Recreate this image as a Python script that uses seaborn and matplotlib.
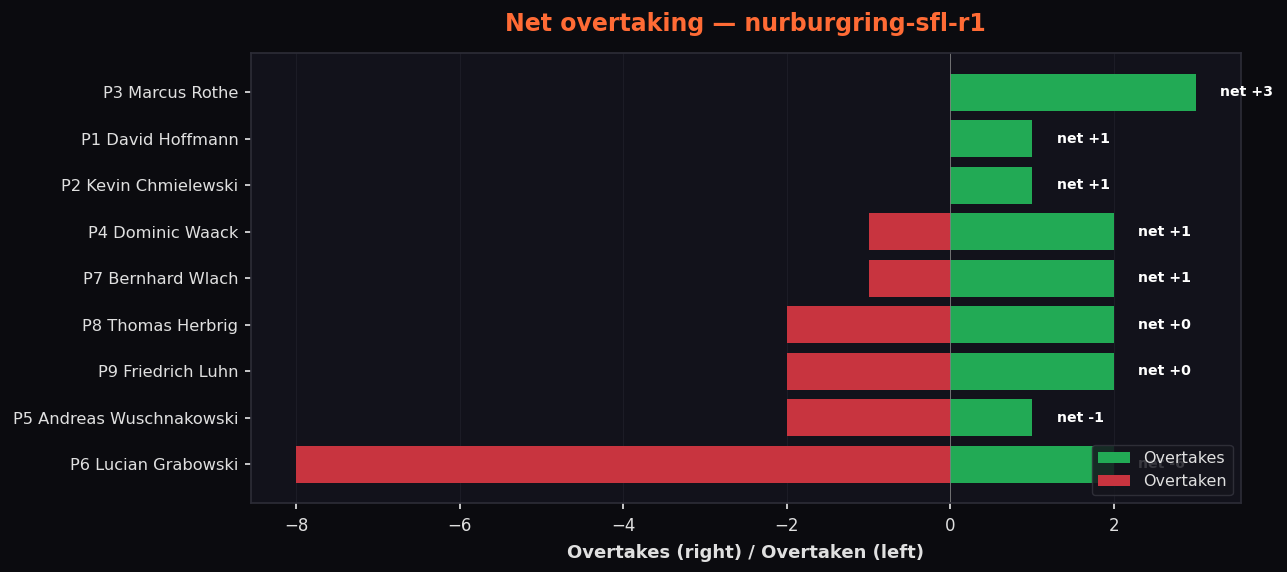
import matplotlib
matplotlib.use("Agg")
import matplotlib.pyplot as plt
import seaborn as sns
import pandas as pd

drivers = ["P3 Marcus Rothe", "P1 David Hoffmann", "P2 Kevin Chmielewski",
           "P4 Dominic Waack", "P7 Bernhard Wlach", "P8 Thomas Herbrig",
           "P9 Friedrich Luhn", "P5 Andreas Wuschnakowski", "P6 Lucian Grabowski"]
overtakes = [3, 1, 1, 2, 2, 2, 2, 1, 2]
overtaken = [0, 0, 0, 1, 1, 2, 2, 2, 8]
title = "Net overtaking — nurburgring-sfl-r1"

BG = "#0b0b0f"
AX = "#12121b"
GREEN = "#22aa55"
RED = "#c8343f"
TXT = "#e0e0e0"

sns.set_theme(style="dark")
plt.rcParams['font.family'] = ['DejaVu Sans']

df = pd.DataFrame({"driver": drivers, "Overtakes": overtakes,
                   "Overtaken": [-v for v in overtaken]})

fig, ax = plt.subplots(figsize=(12.87, 5.72), dpi=100)
fig.patch.set_facecolor(BG)
ax.set_facecolor(AX)

sns.barplot(data=df, y="driver", x="Overtakes", color=GREEN, orient="h",
            width=0.8, ax=ax, label="Overtakes", saturation=1, linewidth=0)
sns.barplot(data=df, y="driver", x="Overtaken", color=RED, orient="h",
            width=0.8, ax=ax, label="Overtaken", saturation=1, linewidth=0)

ax.axvline(0, color="#808080", linewidth=0.6)
for i, (o, d) in enumerate(zip(overtakes, overtaken)):
    net = o - d
    ax.text(o + 0.3, i, f"net {net:+d}", color="white",
            fontsize=10.2, fontweight="bold", va="center", ha="left")

ax.set_xlim(-8.55, 3.55)
ax.set_ylim(8.84, -0.84)
ax.set_title(title, color="#ff6b35", fontsize=17, fontweight="bold", pad=16)
ax.set_xlabel("Overtakes (right) / Overtaken (left)", color=TXT, fontsize=13,
              fontweight="bold", labelpad=6)
ax.set_ylabel("")
ax.tick_params(colors=TXT, labelsize=12, left=True, bottom=True, length=4)
ax.tick_params(axis="y", labelsize=11.7, pad=5)
ax.tick_params(axis="x", pad=6)
ax.grid(axis="x", color="#1c1c26", linewidth=0.8)
ax.grid(axis="y", visible=False)
for s in ax.spines.values():
    s.set_color("#2c2c36")

leg = ax.legend(loc="lower right", facecolor="#15151d", edgecolor="#33333d",
                fontsize=11.5, labelcolor=TXT, framealpha=0.85)

fig.subplots_adjust(left=0.195, right=0.964, top=0.907, bottom=0.12)
fig.savefig("out.png", facecolor=BG)
